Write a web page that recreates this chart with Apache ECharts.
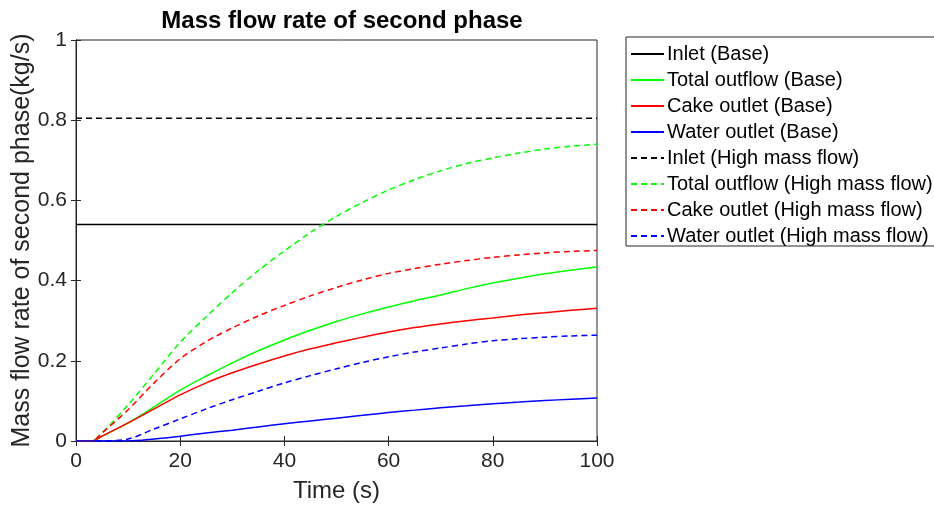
<!DOCTYPE html>
<html style="height:100%;">
<head>
	<meta charset="utf-8" />
	<title>Mass flow rate of second phase</title>
	<script type="text/javascript" src="https://cdn.jsdelivr.net/npm/echarts@6/dist/echarts.min.js"></script>
</head>
<body style="margin:0;padding:0;height:100%;background:#fff;">
	<div id="chart" style="width:934px;height:508px;"></div>
	<script type="text/javascript">
		// time points (s)
		const times = [0, 3, 5, 10, 15, 20, 25, 30, 35, 40, 45, 50, 55, 60, 65, 70, 75, 80, 85, 90, 95, 100];

		// Base case
		const inletBase = 0.54;
		const totalBase = [0, 0, 0.012, 0.045, 0.085, 0.127, 0.162, 0.195, 0.225, 0.252, 0.276, 0.298, 0.317, 0.334, 0.35, 0.364, 0.38, 0.394, 0.406, 0.417, 0.426, 0.434];
		const cakeBase = [0, 0, 0.012, 0.045, 0.08, 0.115, 0.145, 0.17, 0.192, 0.212, 0.23, 0.245, 0.259, 0.272, 0.283, 0.292, 0.3, 0.307, 0.314, 0.32, 0.326, 0.331];
		const waterBase = [0, 0, 0, 0, 0.005, 0.012, 0.02, 0.027, 0.035, 0.043, 0.05, 0.057, 0.064, 0.071, 0.077, 0.083, 0.088, 0.093, 0.097, 0.101, 0.104, 0.107];

		// High mass flow case
		const inletHigh = 0.805;
		const totalHigh = [0, 0, 0.02, 0.09, 0.168, 0.246, 0.31, 0.37, 0.425, 0.474, 0.52, 0.56, 0.595, 0.626, 0.652, 0.674, 0.692, 0.706, 0.718, 0.728, 0.735, 0.74];
		const cakeHigh = [0, 0, 0.02, 0.078, 0.145, 0.205, 0.248, 0.282, 0.312, 0.338, 0.362, 0.383, 0.402, 0.418, 0.43, 0.441, 0.45, 0.458, 0.464, 0.469, 0.473, 0.475];
		const waterHigh = [0, 0, 0, 0.005, 0.03, 0.055, 0.08, 0.103, 0.124, 0.145, 0.163, 0.18, 0.196, 0.21, 0.222, 0.232, 0.242, 0.25, 0.255, 0.259, 0.262, 0.264];

		const font = 'Liberation Sans, Arial, sans-serif';
		const axisColor = '#262626';

		function pairs(vals) {
			return times.map(function (t, i) { return [t, vals[i]]; });
		}
		function flat(v) {
			return times.map(function (t) { return [t, v]; });
		}
		function line(name, data, color, dashed) {
			return {
				name: name,
				type: 'line',
				data: data,
				symbol: 'none',
				smooth: 0.3,
				animation: false,
				lineStyle: { color: color, width: 1.5, type: dashed ? [6, 4] : 'solid' },
				itemStyle: { color: color }
			};
		}

		const chart = echarts.init(document.getElementById('chart'));
		chart.setOption({
			backgroundColor: '#fff',
			title: {
				text: 'Mass flow rate of second phase',
				left: 337,
				textAlign: 'center',
				top: 4,
				textStyle: { fontFamily: font, fontSize: 24, fontWeight: 'bold', color: '#000' }
			},
			legend: {
				orient: 'vertical',
				left: 626,
				top: 37,
				padding: [7, 10, 0, 4],
				itemGap: 6,
				itemWidth: 33,
				itemHeight: 14,
				itemStyle: { opacity: 0 },
				borderColor: '#262626',
				borderWidth: 1,
				textStyle: { fontFamily: font, fontSize: 20, color: '#000', padding: [0, 0, 0, -2] }
			},
			grid: { left: 76, right: 337, top: 40, bottom: 67, outerBoundsMode: 'none', show: true, borderColor: axisColor, borderWidth: 1 },
			xAxis: [{
				type: 'value',
				min: 0, max: 100, interval: 20,
				name: 'Time (s)',
				nameLocation: 'middle',
				nameGap: 38,
				nameTextStyle: { fontFamily: font, fontSize: 24, color: axisColor },
				axisLine: { lineStyle: { color: axisColor } },
				axisTick: { inside: true, length: 5, lineStyle: { color: axisColor } },
				axisLabel: { fontFamily: font, fontSize: 21, color: axisColor, margin: 10 },
				splitLine: { show: false }
			}, {
				type: 'value', position: 'top',
				min: 0, max: 100, interval: 20,
				axisLine: { lineStyle: { color: axisColor } },
				axisTick: { inside: true, length: 5, lineStyle: { color: axisColor } },
				axisLabel: { show: false },
				splitLine: { show: false }
			}],
			yAxis: [{
				type: 'value',
				min: 0, max: 1, interval: 0.2,
				name: 'Mass flow rate of second phase(kg/s)',
				nameLocation: 'middle',
				nameGap: 41,
				nameMoveOverlap: false,
				nameTextStyle: { fontFamily: font, fontSize: 25, color: axisColor },
				axisLine: { show: true, lineStyle: { color: axisColor } },
				axisTick: { show: true, inside: true, length: 5, lineStyle: { color: axisColor } },
				axisLabel: { fontFamily: font, fontSize: 21, color: axisColor, margin: 9 },
				splitLine: { show: false }
			}, {
				type: 'value', position: 'right',
				min: 0, max: 1, interval: 0.2,
				axisLine: { show: true, lineStyle: { color: axisColor } },
				axisTick: { show: true, inside: true, length: 5, lineStyle: { color: axisColor } },
				axisLabel: { show: false },
				splitLine: { show: false }
			}],
			series: [
				line('Inlet (Base)', flat(inletBase), '#000000', false),
				line('Total outflow (Base)', pairs(totalBase), '#00ff00', false),
				line('Cake outlet (Base)', pairs(cakeBase), '#ff0000', false),
				line('Water outlet (Base)', pairs(waterBase), '#0000ff', false),
				line('Inlet (High mass flow)', flat(inletHigh), '#000000', true),
				line('Total outflow (High mass flow)', pairs(totalHigh), '#00ff00', true),
				line('Cake outlet (High mass flow)', pairs(cakeHigh), '#ff0000', true),
				line('Water outlet (High mass flow)', pairs(waterHigh), '#0000ff', true)
			]
		});
	</script>
</body>
</html>
